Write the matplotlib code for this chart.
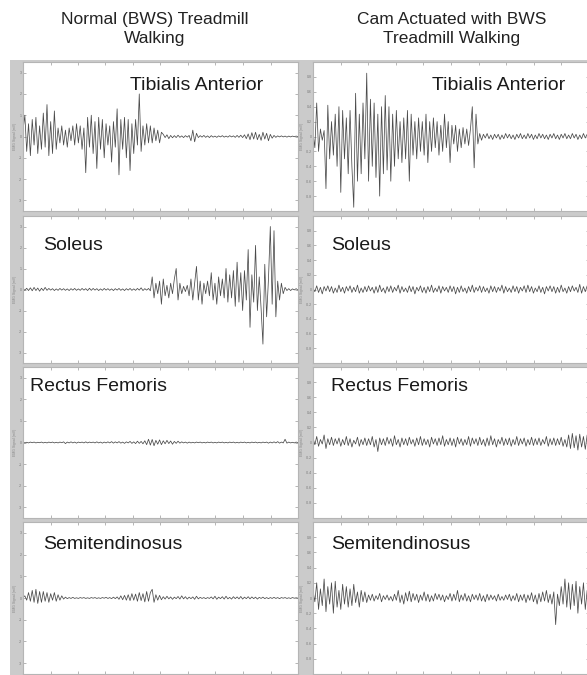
import numpy as np
import matplotlib.pyplot as plt

plt.rcParams['font.family'] = ['Liberation Sans', 'DejaVu Sans']

# EMG envelopes per muscle, sampled evenly over the gait cycle (0-100 %)
# left column: normal BWS treadmill walking (mV)
ta_normal = [
    0.3, 1.0, -0.7, 0.6, -0.9, 0.8, -0.4, 0.9, -0.8, 0.5,
    -0.6, 1.1, -0.5, 1.5, -0.9, 0.7, -0.8, 1.2, -0.6, 0.4,
    -0.3, 0.5, -0.4, 0.3, -0.5, 0.4, -0.2, 0.5, -0.4, 0.6,
    -0.3, 0.5, -0.6, 0.4, -1.7, 0.9, -0.5, 1.0, -0.8, 0.7,
    -1.5, 0.9, -0.6, 0.8, -1.0, 0.6, -0.4, 0.5, -1.2, 0.7,
    -0.5, 1.3, -1.8, 0.8, -0.6, 0.9, -1.0, 0.8, -1.6, 0.6,
    -0.8, 0.8, -0.4, 2.0, -0.7, 0.5, -0.4, 0.6, -0.3, 0.5,
    -0.3, 0.4, -0.2, 0.3, -0.3, 0.2,
    0.1, -0.05, 0.08, -0.1, 0.05, -0.06, 0.04, -0.05, 0.06, -0.04,
    0.03, -0.05, 0.04, -0.03, 0.05, -0.2, 0.3, -0.25, 0.15, -0.05,
    0.04, -0.03, 0.05, -0.04, 0.03, -0.05, 0.04, -0.03, 0.02, -0.04,
    0.03, -0.02, 0.04, -0.03, 0.02, -0.03, 0.04, -0.02, 0.03, -0.04,
    0.05, -0.04, 0.06, -0.05, 0.08, -0.1, 0.12, -0.15, 0.18, -0.12,
    0.2, -0.15, 0.1, -0.18, 0.2, -0.12, 0.15, -0.2, 0.1, -0.08,
    0.05, -0.04, 0.03, -0.02, 0.03, -0.02, 0.02, -0.03, 0.02, -0.02,
    0.02, -0.01, 0.02, -0.01,
]
sol_normal = [
    0.05, -0.04, 0.06, -0.05, 0.08, -0.06, 0.1, -0.05, 0.07, -0.08,
    0.06, -0.05, 0.1, -0.04, 0.05, -0.03, 0.04, -0.05, 0.03, -0.04,
    0.05, -0.03, 0.04, -0.04, 0.03, -0.05, 0.04, -0.03, 0.05, -0.04,
    0.03, -0.04, 0.05, -0.03, 0.04, -0.05, 0.06, -0.04, 0.05, -0.03,
    0.04, -0.05, 0.03, -0.04, 0.05, -0.03, 0.04, -0.04, 0.03, -0.05,
    0.04, -0.03, 0.05, -0.04, 0.03, -0.05, 0.04, -0.03, 0.05, -0.04,
    0.03, -0.04, 0.05, -0.03, 0.08, -0.05, 0.04, -0.03, 0.05, -0.06,
    0.6, -0.4, 0.3, -0.2, 0.4, -0.7, 0.5, -0.3, 0.2, -0.4,
    0.3, -0.2, 0.5, 1.0, -0.5, 0.3, -0.2, 0.15, -0.1, 0.2,
    -0.3, 0.5, -0.5, 0.3, 1.1, -0.5, 0.4, -0.7, 0.3, -0.2,
    0.4, -0.3, 0.8, -0.5, 0.3, -0.7, 0.6, -0.3, 0.5, -0.4,
    1.0, -0.6, 0.7, -0.4, 0.9, -0.8, 1.3, -0.6, 0.8, -1.0,
    0.9, -0.5, 1.9, -1.8, 0.7, -0.6, 2.1, -1.0, 0.6, -0.9,
    -2.6, 1.2, -1.3, 0.5, 3.0, -0.7, 2.8, -1.3, 0.4, -0.5,
    0.3, -0.2, 0.1, -0.05, 0.04, -0.05, 0.03, -0.02, 0.04, -0.03,
]
rf_normal = [
    0.02, -0.02, 0.01, -0.02, 0.02, -0.01, 0.02, -0.02, 0.01, -0.01,
    0.02, -0.02, 0.01, -0.02, 0.02, -0.01, 0.02, -0.02, 0.01, -0.02,
    0.02, -0.01, 0.03, -0.05, 0.02, -0.02, 0.03, -0.02, 0.02, -0.03,
    0.02, -0.01, 0.02, -0.02, 0.03, -0.02, 0.02, -0.01, 0.02, -0.02,
    0.03, -0.02, 0.02, -0.03, 0.02, -0.02, 0.03, -0.02, 0.04, -0.03,
    0.03, -0.02, 0.04, -0.03, 0.02, -0.04, 0.03, -0.02, 0.05, -0.04,
    0.03, -0.05, 0.06, -0.04, 0.05, -0.06,
    0.08, -0.1, 0.15, -0.12, 0.14, -0.15, 0.1, -0.08, 0.12, -0.1,
    0.08, -0.06, 0.1, -0.05, 0.07, -0.08, 0.05, -0.04, 0.06, -0.03,
    0.03, -0.02, 0.02, -0.03, 0.02, -0.02, 0.01, -0.02, 0.02, -0.01,
    0.02, -0.02, 0.01, -0.02, 0.02, -0.01, 0.02, -0.02, 0.01, -0.02,
    0.02, -0.01, 0.02, -0.02, 0.01, -0.02, 0.02, -0.01, 0.02, -0.02,
    0.01, -0.02, 0.02, -0.01, 0.02, -0.02, 0.01, -0.02, 0.02, -0.01,
    0.02, -0.02, 0.01, -0.02, 0.02, -0.01, 0.02, -0.03, 0.02, -0.02,
    0.03, -0.02, 0.04, -0.03, 0.02, -0.02, 0.15, -0.03, 0.02, -0.02,
    0.01, -0.02, 0.02, -0.01,
]
st_normal = [
    0.02, 0.1, -0.1, 0.25, -0.15, 0.35, -0.2, 0.4, -0.25, 0.3,
    -0.2, 0.3, -0.15, 0.25, -0.2, 0.2, -0.1, 0.25, -0.15, 0.15,
    -0.1, 0.1, -0.05,
    0.04, -0.03, 0.02, -0.02, 0.03, -0.02, 0.01, -0.02, 0.02, -0.01,
    0.02, -0.02, 0.01, -0.02, 0.02, -0.01, 0.02, -0.02, 0.01, -0.02,
    0.02, -0.01, 0.03, -0.02, 0.02, -0.03, 0.04, -0.03,
    0.05, -0.06, 0.1, -0.08, 0.12, -0.1, 0.15, -0.12, 0.2, -0.1,
    0.18, -0.15, 0.25, -0.12, 0.2, -0.18, 0.3, -0.15, 0.25, 0.4,
    -0.2, 0.15, -0.1, 0.12, -0.08,
    0.06, -0.05, 0.08, -0.04, 0.05, -0.06, 0.04, -0.03, 0.07, -0.05,
    0.1, -0.04, 0.06, -0.05, 0.04, -0.03, 0.05, -0.06, 0.08, -0.04,
    0.03, -0.02, 0.02, -0.03, 0.02, -0.02, 0.05, -0.04, 0.08, -0.06,
    0.04, -0.03, 0.06, -0.05, 0.08, -0.04, 0.03, -0.05, 0.06, -0.03,
    0.05, -0.04, 0.07, -0.05, 0.04, -0.03, 0.06, -0.04, 0.05, -0.03,
    0.04, -0.05, 0.03, -0.02, 0.04, -0.03, 0.02, -0.03, 0.02, -0.02,
    0.03, -0.02, 0.02, -0.03, 0.02, -0.01, 0.02, -0.02, 0.01, -0.02,
    0.02, -0.01, 0.01, -0.01,
]

# right column: cam actuated with BWS (mV)
ta_cam = [
    0.05, -0.15, 0.45, -0.2, 0.1, -0.05, 0.08, -0.7, 0.42, -0.3,
    0.2, -0.25, 0.3, -0.4, 0.4, -0.75, 0.35, -0.3, 0.25, -0.5,
    0.35, -0.4, -0.95, 0.58, -0.6, 0.3, -0.5, 0.45, -0.3, 0.85,
    -0.6, 0.5, -0.4, 0.45, -0.55, 0.3, -0.8, 0.4, -0.5, 0.55,
    -0.45, 0.4, -0.6, 0.3, -0.4, 0.35, -0.3, 0.2, -0.35, 0.25,
    -0.3, 0.35, -0.6, 0.3, -0.25, 0.2, -0.3, 0.25, -0.2, 0.2,
    -0.25, 0.3, -0.35, 0.2, -0.2, 0.25, -0.15, 0.2, -0.25, 0.15,
    -0.2, 0.3, -0.15, 0.2, -0.35, 0.15, -0.1, 0.15, -0.2, 0.1,
    -0.15, 0.12, -0.1, 0.1, -0.12, 0.1, 0.4, -0.42, 0.3, -0.1,
    0.04, -0.05, 0.03, -0.02, 0.04, -0.03, 0.02, -0.04, 0.03, -0.02,
    0.03, -0.04, 0.02, -0.03, 0.04, -0.02, 0.03, -0.03, 0.02, -0.04,
    0.03, -0.02, 0.04, -0.03, 0.02, -0.03, 0.04, -0.02, 0.03, -0.04,
    0.02, -0.03, 0.04, -0.02, 0.03, -0.03, 0.02, -0.04, 0.03, -0.02,
    0.04, -0.03, 0.02, -0.04, 0.03, -0.02, 0.04, -0.03, 0.02, -0.03,
    0.04, -0.02, 0.03, -0.04, 0.02, -0.03, 0.04, -0.02, 0.03, -0.04,
]
sol_cam = [
    0.02, -0.03, 0.05, -0.04, 0.03, -0.06, 0.04, -0.02, 0.05, -0.03,
    0.04, -0.05, 0.02, -0.04, 0.06, -0.03, 0.03, -0.05, 0.04, -0.02,
    0.05, -0.04, 0.03, -0.03, 0.06, -0.05, 0.02, -0.04, 0.04, -0.03,
    0.05, -0.02, 0.03, -0.05, 0.04, -0.04, 0.06, -0.03, 0.02, -0.05,
    0.04, -0.03, 0.05, -0.04, 0.03, -0.02, 0.06, -0.05, 0.04, -0.03,
    0.02, -0.04, 0.05, -0.03, 0.04, -0.06, 0.03, -0.02, 0.05, -0.04,
    0.03, -0.05, 0.04, -0.03, 0.06, -0.04, 0.02, -0.03, 0.05, -0.05,
    0.04, -0.02, 0.03, -0.04, 0.05, -0.03, 0.04, -0.06, 0.03, -0.04,
    0.05, -0.03, 0.02, -0.05, 0.04, -0.03, 0.06, -0.04, 0.03, -0.02,
    0.05, -0.04, 0.04, -0.03, 0.02, -0.05, 0.05, -0.03, 0.04, -0.04,
    0.03, -0.02, 0.06, -0.05, 0.04, -0.03, 0.02, -0.04, 0.05, -0.03,
    0.04, -0.05, 0.03, -0.02, 0.05, -0.04, 0.06, -0.03, 0.04, -0.05,
    0.02, -0.03, 0.05, -0.04, 0.03, -0.06, 0.04, -0.02, 0.05, -0.03,
    0.04, -0.05, 0.03, -0.04, 0.06, -0.03, 0.02, -0.05, 0.04, -0.03,
    0.05, -0.02, 0.03, -0.04, 0.07, -0.05, 0.04, -0.03, 0.05, -0.02,
]
rf_cam = [
    0.06, -0.03, 0.08, -0.05, 0.04, -0.02, 0.1, -0.08, 0.05, -0.03,
    0.07, -0.04, 0.05, -0.02, 0.06, -0.05, 0.04, -0.03, 0.08, -0.04,
    0.05, -0.06, 0.03, -0.02, 0.07, -0.05, 0.04, -0.03, 0.06, -0.04,
    0.05, -0.03, 0.08, -0.06, 0.04, -0.12, 0.06, -0.03, 0.05, -0.04,
    0.07, -0.02, 0.05, -0.05, 0.09, -0.03, 0.04, -0.06, 0.06, -0.03,
    0.05, -0.04, 0.07, -0.02, 0.04, -0.05, 0.06, -0.03, 0.08, -0.04,
    0.05, -0.03, 0.04, -0.06, 0.07, -0.02, 0.05, -0.04, 0.06, -0.03,
    0.09, -0.05, 0.04, -0.03, 0.06, -0.04, 0.05, -0.06, 0.07, -0.02,
    0.05, -0.04, 0.04, -0.03, 0.08, -0.05, 0.06, -0.02, 0.05, -0.04,
    0.07, -0.03, 0.04, -0.05, 0.06, -0.04, 0.09, -0.03, 0.05, -0.06,
    0.04, -0.02, 0.07, -0.04, 0.05, -0.03, 0.06, -0.05, 0.04, -0.03,
    0.08, -0.04, 0.05, -0.02, 0.06, -0.05, 0.04, -0.03, 0.07, -0.04,
    0.05, -0.03, 0.06, -0.04, 0.04, -0.02, 0.08, -0.05, 0.05, -0.03,
    0.06, -0.04, 0.05, -0.03, 0.07, -0.05, 0.04, -0.06, 0.1, -0.08,
    0.12, -0.07, 0.09, -0.1, 0.11, -0.06, 0.08, -0.09, 0.1, -0.05,
]
st_cam = [
    0.1, -0.05, 0.2, -0.15, 0.12, -0.1, 0.25, -0.18, 0.15, -0.08,
    0.2, -0.2, 0.22, -0.12, 0.1, -0.15, 0.18, -0.08, 0.15, -0.12,
    0.12, -0.1, 0.18, -0.06, 0.08, -0.12, 0.1, -0.05, 0.08, -0.06,
    0.04, -0.03, 0.05, -0.04, 0.03, -0.02, 0.06, -0.05, 0.03, -0.02,
    0.04, -0.03, 0.02, -0.04, 0.05, -0.03, 0.1, -0.06, 0.04, -0.08,
    0.07, -0.04, 0.09, -0.05, 0.06, -0.03, 0.05, -0.06, 0.04, -0.03,
    0.08, -0.04, 0.05, -0.05, 0.03, -0.04, 0.06, -0.02, 0.05, -0.03,
    0.04, -0.05, 0.03, -0.02, 0.06, -0.04, 0.05, -0.03, 0.1, -0.05,
    0.04, -0.03, 0.06, -0.04, 0.03, -0.05, 0.05, -0.02, 0.04, -0.03,
    0.06, -0.04, 0.03, -0.05, 0.05, -0.03, 0.04, -0.02, 0.03, -0.04,
    0.05, -0.03, 0.02, -0.03, 0.04, -0.02, 0.05, -0.04, 0.03, -0.03,
    0.06, -0.05, 0.04, -0.03, 0.05, -0.06, 0.04, -0.03, 0.07, -0.05,
    0.04, -0.08, 0.06, -0.05, 0.08, -0.04, 0.1, -0.06, 0.05, -0.08,
    0.08, -0.35, 0.05, -0.1, 0.15, -0.08, 0.25, -0.12, 0.2, -0.15,
    0.18, -0.1, 0.22, -0.2, 0.15, -0.08, 0.2, -0.15, 0.1, -0.05,
]

muscles = ['Tibialis Anterior', 'Soleus', 'Rectus Femoris', 'Semitendinosus']
col_titles = ['Normal (BWS) Treadmill\nWalking', 'Cam Actuated with BWS\nTreadmill Walking']
normal = [ta_normal, sol_normal, rf_normal, st_normal]
cam = [ta_cam, sol_cam, rf_cam, st_cam]

W, H = 587, 675


def box(x0, y0, x1, y1):
    # pixel box (top-left origin) -> figure fraction rect
    return [x0 / W, 1 - y1 / H, (x1 - x0) / W, (y1 - y0) / H]


fig = plt.figure(figsize=(W / 100, H / 100), dpi=100)
fig.patch.set_facecolor('white')

# grey window background behind the panels
bg = fig.add_axes(box(10, 60, 600, 675))
bg.set_facecolor('#cbcbcb')
bg.set_xticks([])
bg.set_yticks([])
for s in bg.spines.values():
    s.set_visible(False)

rows = [(62, 211), (216, 363), (367, 518), (522, 674)]
cols = [(23, 298), (313, 589)]
label_pos = [
    [(130, 90), (432, 90)],
    [(43, 250), (331, 250)],
    [(30, 391), (331, 391)],
    [(43, 549), (331, 549)],
]

for r, (y0, y1) in enumerate(rows):
    for c, (x0, x1) in enumerate(cols):
        ax = fig.add_axes(box(x0, y0, x1, y1))
        ax.set_facecolor('white')
        y = normal[r] if c == 0 else cam[r]
        x = np.linspace(0, 100, len(y))
        ax.plot(x, y, color='#4a4a4a', lw=0.55)
        ax.set_xlim(0, 100)
        if c == 0:
            ax.set_ylim(-3.5, 3.5)
            ax.set_yticks(np.arange(-3, 4, 1))
            ax.set_yticklabels([str(v) for v in range(-3, 4)])
        else:
            ax.set_ylim(-1, 1)
            yt = np.round(np.arange(-0.8, 0.81, 0.2), 1)
            ax.set_yticks(yt)
            ax.set_yticklabels(['%.1f' % v if v != 0 else '0' for v in yt])
        ax.set_xticks(np.arange(0, 101, 10))
        ax.set_xticklabels([])
        ax.tick_params(direction='in', length=2.5, width=0.5, colors='#999999',
                       labelsize=2.5, labelcolor='#777777', pad=1,
                       top=True, right=True)
        ax.set_ylabel('EMG Signal (mV)', fontsize=2.5, color='#888888', labelpad=1)
        for s in ax.spines.values():
            s.set_color('#b5b5b5')
            s.set_linewidth(0.8)
        lx, ly = label_pos[r][c]
        fig.text(lx / W, 1 - ly / H, muscles[r], fontsize=14, color='#1a1a1a',
                 ha='left', va='baseline')

for c, title in enumerate(col_titles):
    cx = [155, 452][c]
    fig.text(cx / W, 1 - 29 / H, title, fontsize=12.5, color='#222222',
             ha='center', va='center', linespacing=1.4)

fig.savefig('out.png', dpi=100)
